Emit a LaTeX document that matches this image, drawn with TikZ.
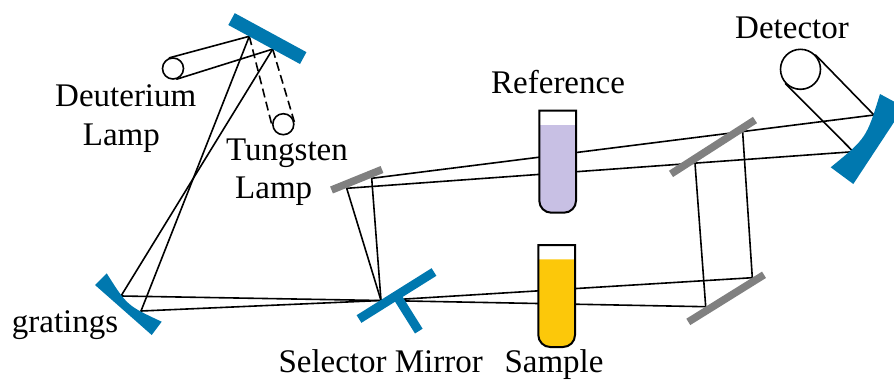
\documentclass[tikz,border=0pt]{standalone}
\usepackage{fontspec}
\setmainfont{Liberation Serif}
\newfontfamily\labelfont{Liberation Serif}
\definecolor{mirrorblue}{RGB}{0,120,175}
\definecolor{mirrorgray}{RGB}{128,128,128}
\definecolor{refliquid}{RGB}{200,192,228}
\definecolor{samliquid}{RGB}{252,200,10}

% outline of a cuvette, 36.7 wide and 102 deep, rounded at the bottom
\newcommand\cuvpath[1]{(0,#1) -- (0,90) .. controls (0,96.63) and (5.37,102) .. (12,102)
  -- (24.7,102) .. controls (31.33,102) and (36.7,96.63) .. (36.7,90) -- (36.7,#1) -- cycle}

\begin{document}
\begin{tikzpicture}[x=1pt,y=-1pt,
  beam/.style={line width=1.6pt,line cap=round},
  lampbeam/.style={line width=1.6pt,dash pattern=on 9pt off 4.5pt},
  lamp/.style={circle,draw,line width=1.6pt,inner sep=0pt,minimum size=#1},
  flatmirror/.style={draw=mirrorgray,line width=7.5pt},
  selmirror/.style={draw=mirrorblue,line width=9pt},
  lbl/.style={inner sep=0pt,anchor=base west,font=\labelfont\fontsize{33}{39}\selectfont},
  pics/cuvette/.style={code={
    \fill[white] \cuvpath{0};
    \fill[#1] \cuvpath{14.3};
    \draw[line width=2pt] \cuvpath{0};
  }},
]
\useasboundingbox (0,0) rectangle (894,381);

% lamps and detector
\node[lamp=21pt] (deut) at (173,68.5) {};
\node[lamp=21pt] (tung) at (283.3,124.2) {};
\node[lamp=40pt] (det) at (800.5,69.3) {};

% points where the beams meet the optics
\coordinate (P1) at (249.3,36.3);
\coordinate (P2) at (272.7,49.1);
\coordinate (G1) at (121,296);
\coordinate (G2) at (141,311);
\coordinate (S) at (381,300.5);
\coordinate (A1) at (346.7,188.3);
\coordinate (A2) at (371.7,178.3);
\coordinate (B1) at (705.7,306.7);
\coordinate (B2) at (752.3,277.7);
\coordinate (C1) at (695,163.3);
\coordinate (C2) at (742.7,132.7);
\coordinate (D1) at (874,115);
\coordinate (D2) at (853.3,151.7);

% light paths
\draw[beam] (deut.109) -- (P1);
\draw[beam] (deut.289) -- (P2);
\draw[lampbeam] (P1) -- (tung.192.7);
\draw[lampbeam] (P2) -- (tung.12.7);
\draw[beam] (P1) -- (G2);
\draw[beam] (P2) -- (G1);
\draw[beam] (G1) -- (S);
\draw[beam] (G2) -- (S);
\draw[beam] (S) -- (A1);
\draw[beam] (S) -- (A2);
\draw[beam] (A1) -- (D2);
\draw[beam] (A2) -- (D1);
\draw[beam] (S) -- (B1);
\draw[beam] (S) -- (B2);
\draw[beam] (B1) -- (C1);
\draw[beam] (B2) -- (C2);
\draw[beam] (det.44.6) -- (D1);
\draw[beam] (det.224.6) -- (D2);

% cuvettes
\pic at (539.3,110.7) {cuvette=refliquid};
\pic at (538.3,245) {cuvette=samliquid};

% source mirror
\fill[mirrorblue] (228.3,25) -- (234.75,13.14) -- (306.45,52.14) -- (300,64) -- cycle;
% gratings
\fill[mirrorblue] (95,285) -- (106.7,273.3) .. controls (127.1,305.6) .. (161.7,321.7)
  -- (151.7,335) -- cycle;
% detector mirror
\fill[mirrorblue] (880,94) .. controls (866.4,138.1) .. (830.7,167.3)
  -- (853.3,184) -- (904,107) -- cycle;
% selector mirror
\draw[selmirror] (359,319) -- (434,272);
\draw[selmirror] (396.5,295.5) -- (418.8,331.1);
% flat mirrors
\draw[flatmirror] (331.5,190) -- (382,169.5);
\draw[flatmirror] (671,173.9) -- (755,120);
\draw[flatmirror] (688.3,321.9) -- (764,274.8);

% labels
\node[lbl] (deutA) at (55,106) {Deuterium};
\node[lbl] (deutB) at (82.7,145) {Lamp};
\node[lbl] (tungA) at (226,160) {Tungsten};
\node[lbl] (tungB) at (235,198.3) {Lamp};
\node[lbl] (reflbl) at (491,93) {Reference};
\node[lbl] (detlbl) at (735,38.3) {Detector};
\node[lbl] (grlbl) at (11.7,332.7) {gratings};
\node[lbl] (sellbl) at (278.3,372.3) {Selector Mirror};
\node[lbl] (samlbl) at (504.3,372.3) {Sample};
\end{tikzpicture}
\end{document}
